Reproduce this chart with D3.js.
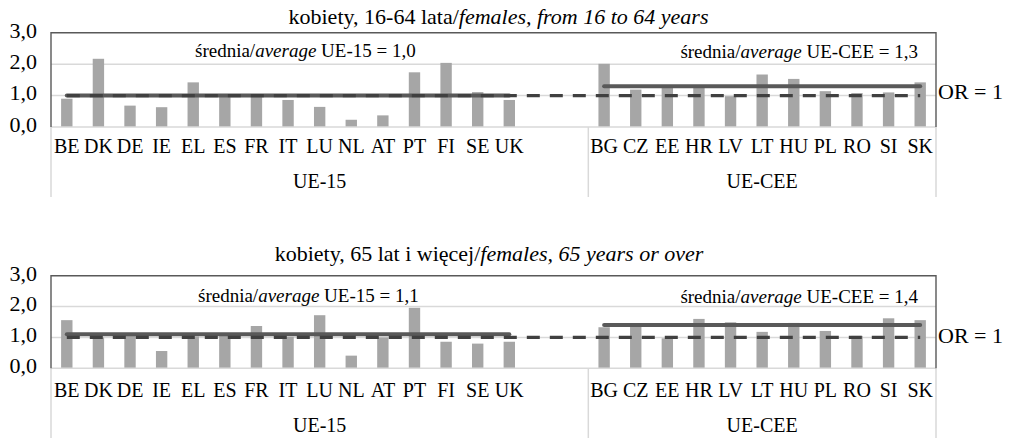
<!DOCTYPE html>
<html><head><meta charset="utf-8">
<script src="https://cdn.jsdelivr.net/npm/d3@7"></script>
<style>
body{margin:0;background:#fff;}
svg{display:block;}
</style></head><body>
<svg id="chart" width="1012" height="438"></svg>
<script>
// ---- data ----
const categoriesEU15 = ["BE","DK","DE","IE","EL","ES","FR","IT","LU","NL","AT","PT","FI","SE","UK"];
const categoriesCEE = ["BG","CZ","EE","HR","LV","LT","HU","PL","RO","SI","SK"];
const gapSlots = ["gap1","gap2"];
const groupLabels = ["UE-15","UE-CEE"];
const yTickValues = [0,1,2,3];
const orValue = 1;
const orLabel = "OR = 1";
const valuesF1664EU15 = [0.90,2.17,0.68,0.63,1.42,1.02,0.99,0.86,0.64,0.23,0.37,1.74,2.04,1.11,0.86];
const valuesF1664CEE  = [2.01,1.19,1.25,1.28,0.98,1.67,1.53,1.14,1.08,1.10,1.42];
const valuesF65EU15   = [1.56,1.00,1.05,0.56,1.03,1.12,1.37,1.02,1.72,0.41,1.00,1.96,0.86,0.80,0.86];
const valuesF65CEE    = [1.33,1.36,0.97,1.60,1.49,1.18,1.47,1.21,1.05,1.62,1.56];
const averagesF1664 = [1.0, 1.3];
const averagesF65   = [1.1, 1.4];
const titleF1664 = ["kobiety, 16-64 lata/", "females, from 16 to 64 years"];
const titleF65   = ["kobiety, 65 lat i więcej/", "females, 65 years or over"];
const avgWord = ["średnia/", "average"];

// ---- layout ----
const FF = "'Liberation Serif', 'Times New Roman', 'DejaVu Serif', serif";
const svg = d3.select("#chart").attr("font-family", FF);
const domain = [...categoriesEU15, ...gapSlots, ...categoriesCEE];
const x = d3.scaleBand().domain(domain).range([51, 936]).paddingInner(0.64).paddingOuter(0.32);
const cx = c => x(c) + x.bandwidth() / 2;
const fmt = v => d3.format(".1f")(v).replace(".", ",");
const FONT = 20;

function drawPanel(p) {
  const g = svg.append("g").attr("font-family", FF);
  const y = d3.scaleLinear().domain([0, 3]).range([p.base, p.top]);
  const [x0, x1] = x.range();
  const xSep = x(categoriesCEE[0]) - x.step() * x.paddingInner() / 2;

  // title
  const t = g.append("text").attr("x", p.titleCx).attr("y", p.titleY)
    .attr("font-family", FF)
    .attr("text-anchor", "middle").attr("font-size", 22).attr("fill", "#000");
  t.append("tspan").text(p.title[0]);
  t.append("tspan").attr("font-style", "italic").text(p.title[1]);

  // gridlines
  g.selectAll("line.grid").data(yTickValues.filter(v => v > 0 && v < 3)).join("line")
    .attr("class", "grid")
    .attr("x1", x0).attr("x2", x1).attr("y1", d => y(d)).attr("y2", d => y(d))
    .attr("stroke", "#d9d9d9").attr("stroke-width", 1.5);

  // category axis separators (multi-level)
  g.selectAll("line.sep").data([x0, xSep, x1]).join("line")
    .attr("class", "sep")
    .attr("x1", d => d).attr("x2", d => d).attr("y1", y(0)).attr("y2", p.sepBottom)
    .attr("stroke", "#d9d9d9").attr("stroke-width", 1.5);

  // bars
  const data = [
    ...categoriesEU15.map((c, i) => ({c, v: p.eu[i]})),
    ...categoriesCEE.map((c, i) => ({c, v: p.cee[i]}))
  ];
  g.selectAll("rect.bar").data(data).join("rect")
    .attr("class", "bar")
    .attr("x", d => x(d.c)).attr("width", x.bandwidth())
    .attr("y", d => y(d.v)).attr("height", d => y(0) - y(d.v))
    .attr("fill", "#a6a6a6");

  // baseline
  g.append("line").attr("x1", x0).attr("x2", x1).attr("y1", y(0)).attr("y2", y(0))
    .attr("stroke", "#d9d9d9").attr("stroke-width", 1.5);

  // plot border (top, left, right)
  g.append("path")
    .attr("d", `M${x0},${y(0)}V${y(3)}H${x1}V${y(0)}`)
    .attr("fill", "none").attr("stroke", "#595959").attr("stroke-width", 1.4);

  // average lines
  const groups = [categoriesEU15, categoriesCEE];
  g.selectAll("line.avg").data(groups).join("line")
    .attr("class", "avg")
    .attr("x1", (d) => cx(d[0])).attr("x2", d => cx(d[d.length - 1]))
    .attr("y1", (d, i) => y(p.avg[i])).attr("y2", (d, i) => y(p.avg[i]))
    .attr("stroke", "#595959").attr("stroke-width", 4).attr("stroke-linecap", "round");

  // OR = 1 dashed line
  const orLine = d3.line().x(d => cx(d)).y(() => y(orValue));
  g.append("path").attr("d", orLine(domain))
    .attr("fill", "none").attr("stroke", "#404040").attr("stroke-width", 3.3)
    .attr("stroke-dasharray", "13,10");

  // y axis
  const ya = g.append("g").attr("transform", `translate(${x0},0)`)
    .call(d3.axisLeft(y).tickValues(yTickValues).tickFormat(fmt).tickSize(0).tickPadding(14));
  ya.select(".domain").remove();
  ya.attr("font-family", FF).attr("font-size", 22);
  ya.selectAll("text").attr("fill", "#000").attr("dy", "0.2em");

  // x axis (level 1 labels)
  const xa = g.append("g").attr("transform", `translate(0,${y(0)})`)
    .call(d3.axisBottom(x).tickValues([...categoriesEU15, ...categoriesCEE]).tickSize(0));
  xa.select(".domain").remove();
  xa.attr("font-family", FF).attr("font-size", FONT);
  xa.selectAll("text").attr("fill", "#000").attr("y", p.labelY - y(0)).attr("dy", null);

  // level 2 group labels
  g.selectAll("text.grp").data(groupLabels).join("text")
    .attr("class", "grp").attr("font-family", FF)
    .attr("x", (d, i) => i === 0 ? (x0 + xSep) / 2 : (xSep + x1) / 2)
    .attr("y", p.groupY).attr("text-anchor", "middle").attr("font-size", FONT).attr("fill", "#000")
    .text(d => d);

  // average annotations
  groupLabels.forEach((gl, i) => {
    const a = g.append("text").attr("font-size", 19).attr("fill", "#000").attr("font-family", FF)
      .style("white-space", "pre")
      .attr("y", p.annY[i]);
    if (i === 0) a.attr("x", p.annX[0]).attr("text-anchor", "start");
    else a.attr("x", p.annX[1]).attr("text-anchor", "end");
    a.append("tspan").text(avgWord[0]);
    a.append("tspan").attr("font-style", "italic").text(avgWord[1]);
    a.append("tspan").text(" " + gl + " = " + fmt(p.avg[i]));
  });

  // OR label
  g.append("text").attr("x", x1 + 2).attr("y", p.orY).attr("font-size", 22).attr("fill", "#000")
    .attr("font-family", FF).style("white-space", "pre").text(orLabel);
}

drawPanel({
  top: 32.7, base: 127, title: titleF1664, titleCx: 498.5, titleY: 24,
  eu: valuesF1664EU15, cee: valuesF1664CEE, avg: averagesF1664,
  annX: [195, 918], annY: [57, 58], labelY: 153, groupY: 188, sepBottom: 197, orY: 99
});
drawPanel({
  top: 275.7, base: 368.3, title: titleF65, titleCx: 489, titleY: 261,
  eu: valuesF65EU15, cee: valuesF65CEE, avg: averagesF65,
  annX: [198, 918], annY: [302, 303], labelY: 397, groupY: 432, sepBottom: 438, orY: 342.5
});
</script>
</body></html>
